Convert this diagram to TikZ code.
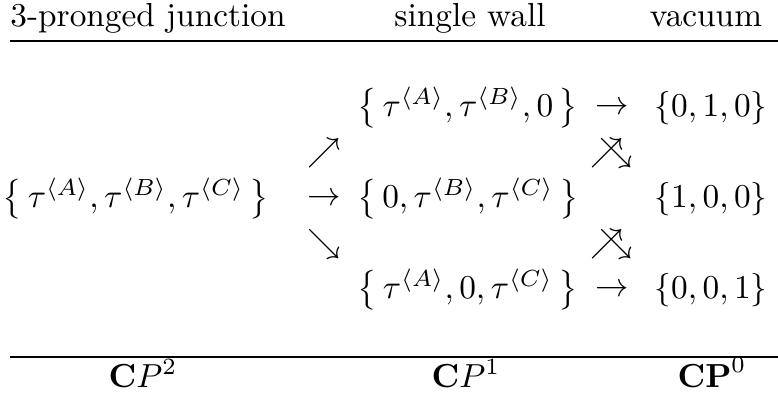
\documentclass[tikz,border=0pt]{standalone}
\usepackage{amsmath,amssymb}
\usepackage{mathtools}
\usetikzlibrary{positioning}
\newcommand{\tauA}{\tau^{\langle A\rangle}}
\newcommand{\tauB}{\tau^{\langle B\rangle}}
\newcommand{\tauC}{\tau^{\langle C\rangle}}
\newcommand{\tset}[1]{\bigl\{\,#1\,\bigr\}}
\newcommand{\crossarr}{\mathrlap{\nearrow}\searrow}
\tikzset{
  head/.style={anchor=base, inner sep=0pt},
  state/.style={inner sep=0pt},
  map/.style={inner sep=0pt},
  toprule/.style={line width=0.8pt},
  botrule/.style={line width=0.5pt},
}
\begin{document}
\begin{tikzpicture}[x=0.3pt, y=-0.3pt]
\useasboundingbox (0,0) rectangle (778,393);
% column heads
\node[head] (hjunc) at (148,27) {3-pronged junction};
\node[head] (hwall) at (470,27) {single wall};
\node[head] (hvac)  at (706,27) {vacuum};
\draw[toprule] (10,41) -- (778,41);

% three-pronged junction
\node[state] (junc) at (136,199) {$\tset{\tauA,\tauB,\tauC}$};
\node[map] (up)  at (324,153) {$\nearrow$};
\node[map] (mid) at (324,199) {$\rightarrow$};
\node[map] (dn)  at (324,244) {$\searrow$};

% single walls
\node[state] (wallAB) at (468,108) {$\tset{\tauA,\tauB,0}$};
\node[state] (wallBC) at (468,199) {$\tset{0,\tauB,\tauC}$};
\node[state] (wallAC) at (468,290) {$\tset{\tauA,0,\tauC}$};
\node[map] (topmap) at (612,108) {$\rightarrow$};
\node[map] (xup)    at (612,153) {$\crossarr$};
\node[map] (xdn)    at (612,244) {$\crossarr$};
\node[map] (botmap) at (612,290) {$\rightarrow$};

% vacua
\node[state] (vacB) at (711,108) {$\{0,1,0\}$};
\node[state] (vacA) at (711,199) {$\{1,0,0\}$};
\node[state] (vacC) at (711,290) {$\{0,0,1\}$};

% spaces
\draw[botrule] (10,357) -- (778,357);
\node[head] (cp2) at (143,387) {$\mathbf{C}P^2$};
\node[head] (cp1) at (466,387) {$\mathbf{C}P^1$};
\node[head] (cp0) at (712,387) {$\mathbf{CP}^0$};
\end{tikzpicture}
\end{document}
